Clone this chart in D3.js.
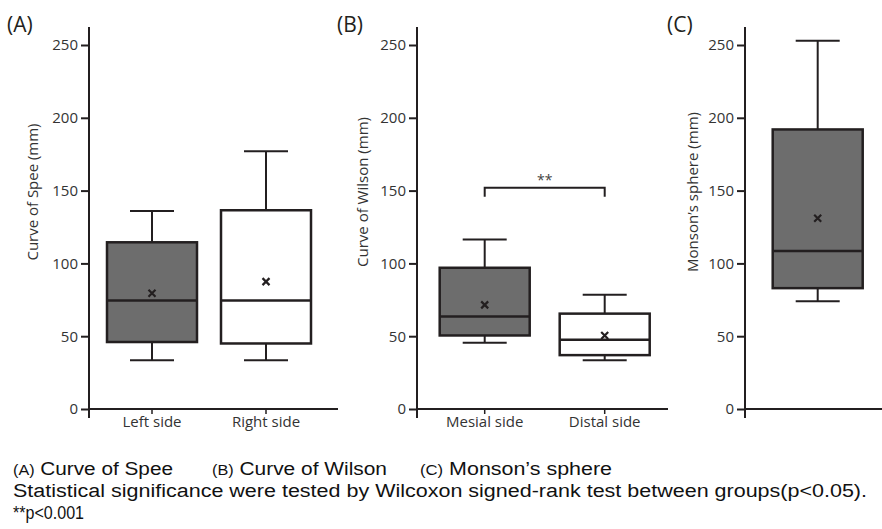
<!DOCTYPE html>
<html>
<head>
<meta charset="utf-8">
<script src="https://cdn.jsdelivr.net/npm/d3@7"></script>
<style>
  body { margin: 0; background: #fff; }
  svg { display: block; }
</style>
</head>
<body>
<svg id="chart" width="882" height="529"></svg>
<script>
// panel data
var panelTags = ["(A)", "(B)", "(C)"];
var yTitles = ["Curve of Spee (mm)", "Curve of Wilson (mm)", "Monson\u2019s sphere (mm)"];
var yTicks = [0, 50, 100, 150, 200, 250];

var catsA = ["Left side", "Right side"];
var minA = [33.5, 33.5];
var q1A = [46, 45];
var medA = [74.5, 74.5];
var q3A = [114.5, 136.5];
var maxA = [136, 177];
var meanA = [79.5, 87.5];

var catsB = ["Mesial side", "Distal side"];
var minB = [45.5, 33.5];
var q1B = [50.5, 37];
var medB = [63.5, 47.5];
var q3B = [97, 65.5];
var maxB = [116.5, 78.5];
var meanB = [71.5, 50.5];

var catsC = [""];
var minC = [74];
var q1C = [83];
var medC = [108.5];
var q3C = [192];
var maxC = [253];
var meanC = [131];

var fills = ["#6d6d6d", "#ffffff"];
var sigLabel = "**";
var sigValue = 152;

var captionTags = ["(A)", "(B)", "(C)"];
var captionNames = [" Curve of Spee", " Curve of Wilson", " Monson\u2019s sphere"];
var captionLine2 = "Statistical significance were tested by Wilcoxon signed-rank test between groups(p<0.05).";
var captionLine3 = "**p<0.001";

var ink = "#231f20";
var chartFont = "'Open Sans', sans-serif";
var svg = d3.select("#chart");

var y = d3.scaleLinear().domain([0, 250]).range([409, 45]);

function drawPanel(opt) {
  var g = svg.append("g");
  var x = d3.scalePoint().domain(opt.cats).range(opt.centers);
  var boxW = 90, capW = 44;

  // y axis ticks and labels
  var yAxis = d3.axisLeft(y).tickValues(yTicks).tickSize(8).tickPadding(3);
  var ya = g.append("g").attr("transform", "translate(" + opt.axisX + ",0)").call(yAxis);
  ya.select(".domain").remove();
  ya.selectAll(".tick line").attr("stroke", ink).attr("stroke-width", 2);
  ya.selectAll(".tick text").attr("fill", "#333").style("font-family", chartFont).style("font-size", "15px");

  g.append("line").attr("x1", opt.axisX).attr("x2", opt.axisX).attr("y1", 27).attr("y2", 418)
    .attr("stroke", ink).attr("stroke-width", 2);
  g.append("line").attr("x1", opt.axisX).attr("x2", opt.axisEnd).attr("y1", y(0)).attr("y2", y(0))
    .attr("stroke", ink).attr("stroke-width", 2);

  opt.cats.forEach(function(c, i) {
    var cx = x(c);
    if (c !== "") {
      g.append("line").attr("x1", cx).attr("x2", cx).attr("y1", y(0)).attr("y2", y(0) + 5)
        .attr("stroke", ink).attr("stroke-width", 1.5);
      g.append("text").attr("x", cx).attr("y", 427).attr("text-anchor", "middle")
        .attr("fill", "#333").style("font-family", chartFont).style("font-size", "15px")
        .text(c);
    }
    // whiskers
    g.append("line").attr("x1", cx).attr("x2", cx).attr("y1", y(opt.max[i])).attr("y2", y(opt.q3[i]))
      .attr("stroke", ink).attr("stroke-width", 2);
    g.append("line").attr("x1", cx).attr("x2", cx).attr("y1", y(opt.q1[i])).attr("y2", y(opt.min[i]))
      .attr("stroke", ink).attr("stroke-width", 2);
    g.append("line").attr("x1", cx - capW / 2).attr("x2", cx + capW / 2).attr("y1", y(opt.max[i])).attr("y2", y(opt.max[i]))
      .attr("stroke", ink).attr("stroke-width", 2);
    g.append("line").attr("x1", cx - capW / 2).attr("x2", cx + capW / 2).attr("y1", y(opt.min[i])).attr("y2", y(opt.min[i]))
      .attr("stroke", ink).attr("stroke-width", 2);
    // box
    g.append("rect").attr("x", cx - boxW / 2).attr("width", boxW)
      .attr("y", y(opt.q3[i])).attr("height", y(opt.q1[i]) - y(opt.q3[i]))
      .attr("fill", fills[i]).attr("stroke", ink).attr("stroke-width", 2.5);
    g.append("line").attr("x1", cx - boxW / 2).attr("x2", cx + boxW / 2).attr("y1", y(opt.med[i])).attr("y2", y(opt.med[i]))
      .attr("stroke", ink).attr("stroke-width", 2.5);
    // mean marker
    var my = y(opt.mean[i]), s = 3.5;
    g.append("path").attr("d", "M" + (cx - s) + "," + (my - s) + "L" + (cx + s) + "," + (my + s) +
        "M" + (cx - s) + "," + (my + s) + "L" + (cx + s) + "," + (my - s))
      .attr("stroke", ink).attr("stroke-width", 2.2).attr("fill", "none");
  });

  // y title
  g.append("text").attr("transform", "translate(" + opt.titleX + ",192) rotate(-90)")
    .attr("text-anchor", "middle").attr("dy", "0.35em")
    .attr("textLength", opt.titleLen).attr("lengthAdjust", "spacingAndGlyphs")
    .attr("fill", "#333").style("font-family", chartFont).style("font-size", "15px")
    .text(opt.title);
  // panel tag
  g.append("text").attr("x", opt.tagX).attr("y", 32)
    .attr("fill", ink).style("font-family", chartFont).style("font-size", "21px")
    .text(opt.tag);

  return { g: g, x: x };
}

drawPanel({ cats: catsA, centers: [152, 266], axisX: 89, axisEnd: 338, min: minA, q1: q1A, med: medA, q3: q3A, max: maxA, mean: meanA, title: yTitles[0], titleX: 33, titleLen: 137, tag: panelTags[0], tagX: 7 });
var pB = drawPanel({ cats: catsB, centers: [484.7, 604.7], axisX: 417, axisEnd: 668, min: minB, q1: q1B, med: medB, q3: q3B, max: maxB, mean: meanB, title: yTitles[1], titleX: 363, titleLen: 150, tag: panelTags[1], tagX: 337 });
drawPanel({ cats: catsC, centers: [817.7, 817.7], axisX: 745, axisEnd: 882, min: minC, q1: q1C, med: medC, q3: q3C, max: maxC, mean: meanC, title: yTitles[2], titleX: 693, titleLen: 160, tag: panelTags[2], tagX: 667 });

// significance bracket in panel B
var bx1 = pB.x(catsB[0]), bx2 = pB.x(catsB[1]), by = y(sigValue);
pB.g.append("path").attr("d", "M" + bx1 + "," + (by + 9) + "V" + by + "H" + bx2 + "V" + (by + 9))
  .attr("fill", "none").attr("stroke", ink).attr("stroke-width", 2);
pB.g.append("text").attr("x", (bx1 + bx2) / 2).attr("y", by - 3).attr("text-anchor", "middle")
  .attr("fill", "#444").style("font-family", chartFont).style("font-size", "14px")
  .text(sigLabel);

// caption
var capFont = "'Liberation Sans', Arial, sans-serif";
var cap1X = [13, 212, 420], cap1W = [160, 175, 192];
captionNames.forEach(function(t, i) {
  var tx = svg.append("text").attr("x", cap1X[i]).attr("y", 475)
    .attr("textLength", cap1W[i]).attr("lengthAdjust", "spacingAndGlyphs")
    .attr("fill", "#111").style("font-family", capFont).style("font-size", "18px");
  tx.append("tspan").style("font-size", "14px").text(captionTags[i]);
  tx.append("tspan").text(t);
});
svg.append("text").attr("x", 13).attr("y", 497)
  .attr("textLength", 854).attr("lengthAdjust", "spacingAndGlyphs")
  .attr("fill", "#111").style("font-family", capFont).style("font-size", "18px").text(captionLine2);
svg.append("text").attr("x", 13).attr("y", 519)
  .attr("textLength", 71).attr("lengthAdjust", "spacingAndGlyphs")
  .attr("fill", "#111").style("font-family", capFont).style("font-size", "18px").text(captionLine3);
</script>
</body>
</html>
